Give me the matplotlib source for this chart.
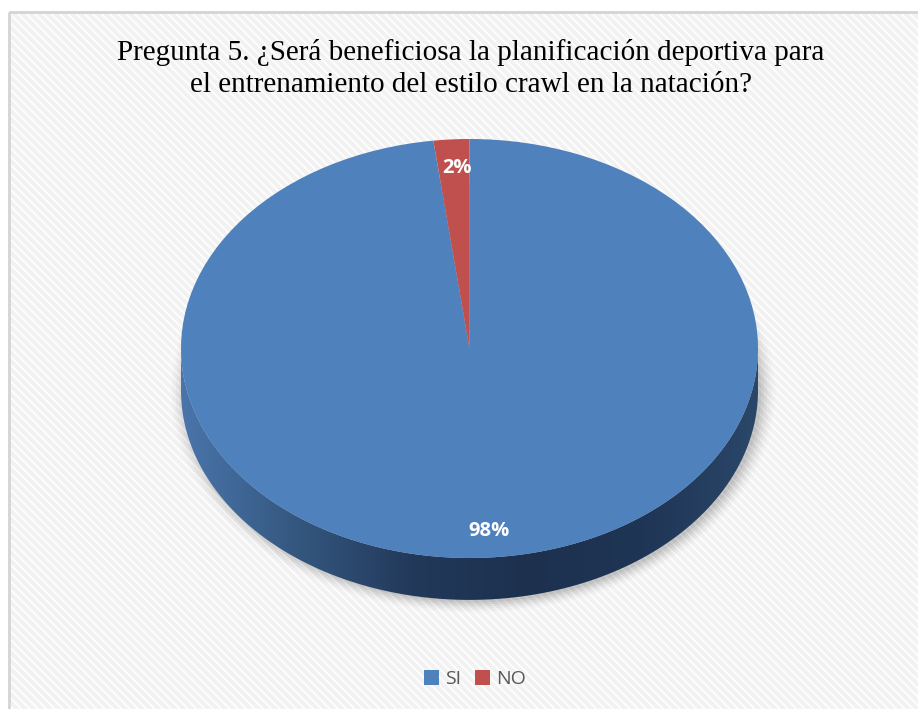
import numpy as np
import matplotlib.pyplot as plt
from matplotlib.patches import Rectangle, Polygon, Ellipse
from matplotlib.colors import LinearSegmentedColormap

# datos de la encuesta
categorias = ['SI', 'NO']
porcentajes = [98, 2]
colores = ['#4F81BD', '#C0504D']
titulo = ("Pregunta 5. ¿Será beneficiosa la planificación deportiva para\n"
          "el entrenamiento del estilo crawl en la natación?")

plt.rcParams['hatch.linewidth'] = 3.0

W, H = 918, 709
fig = plt.figure(figsize=(W / 100, H / 100), dpi=100)
fig.patch.set_facecolor('white')

# fondo con rayas y borde
bg = fig.add_axes([0, 0, 1, 1])
bg.set_xlim(0, W)
bg.set_ylim(H, 0)
bg.axis('off')
bg.add_patch(Rectangle((9, 12), W + 10, H + 10, facecolor='white',
                       edgecolor='#f2f2f2', linewidth=0, hatch='\\\\\\\\'))
bg.add_patch(Rectangle((9, 12), W + 10, H + 10, facecolor='none',
                       edgecolor='#d4d4d4', linewidth=2))

bg.text(471, 68, titulo, ha='center', va='center', fontsize=21,
        family='Liberation Serif', color='black', linespacing=1.3)

# pastel con perspectiva: cara superior de radio 1, profundidad en y
depth = 0.2
left, right, top, bot_top = 181, 758, 139, 558
ry_px = (bot_top - top) / 2
bot = bot_top + depth * ry_px
ax = fig.add_axes([left / W, 1 - bot / H, (right - left) / W, (bot - top) / H])
ax.set_xlim(-1, 1)
ax.set_ylim(-1 - depth, 1)
ax.set_aspect('auto')
ax.axis('off')

# sombra suave
for i, a in enumerate(np.linspace(0.06, 0.012, 6)):
    s = 1.0 + 0.01 * i
    ax.add_patch(Ellipse((0.012, -depth - 0.012), 2 * s, 2 * s, facecolor='black',
                         edgecolor='none', alpha=a, zorder=0, clip_on=False))

# lado frontal con degradado
t = np.linspace(np.pi, 2 * np.pi, 200)
xs = np.cos(t)
ys = np.sin(t)
pts = np.concatenate([np.column_stack([xs, ys]),
                      np.column_stack([xs[::-1], ys[::-1] - depth])])
lado = Polygon(pts, closed=True, facecolor='none', edgecolor='none', zorder=1)
ax.add_patch(lado)
grad = np.linspace(0, 1, 256).reshape(1, -1)
cmap = LinearSegmentedColormap.from_list(
    'lado', ['#4a75ab', '#34577f', '#22395a', '#1d314f', '#1f3555', '#2a4769'])
img = ax.imshow(grad, extent=(-1, 1, -1 - depth, 0), cmap=cmap, aspect='auto',
                zorder=1, interpolation='bilinear')
img.set_clip_path(lado)

wedges, _ = ax.pie(porcentajes, colors=colores, startangle=90, counterclock=False,
                   radius=1, wedgeprops=dict(linewidth=0, zorder=2))
ax.set_aspect('auto')
ax.set_xlim(-1, 1)
ax.set_ylim(-1 - depth, 1)

# etiquetas de porcentaje
ang = 90 - np.cumsum([0] + porcentajes[:-1]) * 3.6 - np.array(porcentajes) * 1.8
rad = [0.87, 0.87]
dx = [0.014, 0.012]
for p, a, r, d in zip(porcentajes, ang, rad, dx):
    a = np.deg2rad(a)
    x, y = r * np.cos(a), r * np.sin(a)
    ax.text(x + d, y - 0.005, '%d%%' % p, ha='center', va='center',
            color='white', fontsize=14.5, fontweight='bold', family='Open Sans',
            zorder=5)

fig.legend(wedges, categorias, loc='center', bbox_to_anchor=(475 / W, 1 - 679 / H),
           ncol=2, frameon=False, handlelength=0.8, handleheight=0.8,
           handletextpad=0.3, columnspacing=0.7, labelcolor='#595959',
           prop=dict(family='Open Sans', size=14))

fig.savefig('out.png', dpi=100)
